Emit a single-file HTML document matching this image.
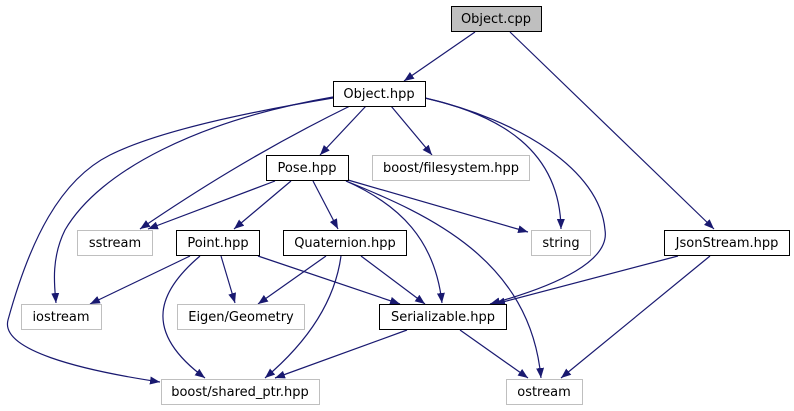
<!DOCTYPE html>
<html><head><meta charset="utf-8"><style>
html,body{margin:0;padding:0;background:#fff;}
svg{display:block;}
text{font-family:"DejaVu Sans","Liberation Sans",sans-serif;font-size:13px;fill:#000;}
</style></head><body>
<svg width="794" height="411" viewBox="0 0 794 411" xmlns="http://www.w3.org/2000/svg">
<defs>
<marker id="a" viewBox="0 0 10 8" refX="10" refY="4" markerWidth="10" markerHeight="8" markerUnits="userSpaceOnUse" orient="auto">
<path d="M0,0 L10,4 L0,8 Z" fill="#191970"/>
</marker>
</defs>
<g fill="none" stroke="#191970" stroke-width="1.2" marker-end="url(#a)">
<path d="M475,32 L404,81"/>
<path d="M510,32 L714,229"/>
<path d="M366,106 L320,155"/>
<path d="M391,106 L432,155"/>
<path d="M425,98 C500,115 560,150 561,229"/>
<path d="M425,98 C520,120 600,170 605,230 C610,260 560,285 490,304"/>
<path d="M350,106 C260,150 190,195 140,229"/>
<path d="M333,97 C200,120 100,170 65,230 C50,260 55,290 56,303"/>
<path d="M333,98 C200,120 140,140 110,155 C60,180 30,240 8,320 C0,350 80,370 160,382"/>
<path d="M275,181 L148,229"/>
<path d="M291,181 L234,229"/>
<path d="M313,181 L338,229"/>
<path d="M348,180 L528,232"/>
<path d="M346,181 C400,205 435,240 442,303"/>
<path d="M346,181 C430,215 530,260 541,378"/>
<path d="M190,256 L90,304"/>
<path d="M221,256 L235,303"/>
<path d="M258,256 L400,304"/>
<path d="M200,256 C160,290 140,330 205,378"/>
<path d="M326,256 L258,304"/>
<path d="M361,256 L425,304"/>
<path d="M341,256 C335,300 310,340 265,378"/>
<path d="M407,330 L275,378"/>
<path d="M460,330 L528,378"/>
<path d="M678,256 L495,304"/>
<path d="M710,256 L561,378"/>
</g>
<g stroke-width="1">
<rect x="451.5" y="6.5" width="90" height="25" fill="#bfbfbf" stroke="#000"/>
<rect x="333.5" y="81.5" width="92" height="25" fill="#fff" stroke="#000"/>
<rect x="266.5" y="155.5" width="82" height="25" fill="#fff" stroke="#000"/>
<rect x="372.5" y="155.5" width="157" height="25" fill="#fff" stroke="#bfbfbf"/>
<rect x="77.5" y="230.5" width="75" height="25" fill="#fff" stroke="#bfbfbf"/>
<rect x="176.5" y="230.5" width="83" height="25" fill="#fff" stroke="#000"/>
<rect x="283.5" y="230.5" width="123" height="25" fill="#fff" stroke="#000"/>
<rect x="531.5" y="230.5" width="59" height="25" fill="#fff" stroke="#bfbfbf"/>
<rect x="664.5" y="230.5" width="125" height="25" fill="#fff" stroke="#000"/>
<rect x="21.5" y="304.5" width="80" height="25" fill="#fff" stroke="#bfbfbf"/>
<rect x="177.5" y="304.5" width="127" height="25" fill="#fff" stroke="#bfbfbf"/>
<rect x="379.5" y="304.5" width="127" height="25" fill="#fff" stroke="#000"/>
<rect x="161.5" y="379.5" width="158" height="25" fill="#fff" stroke="#bfbfbf"/>
<rect x="506.5" y="379.5" width="76" height="25" fill="#fff" stroke="#bfbfbf"/>
</g>
<g text-anchor="middle">
<text x="496" y="23">Object.cpp</text>
<text x="379" y="98">Object.hpp</text>
<text x="307" y="172">Pose.hpp</text>
<text x="451" y="172">boost/filesystem.hpp</text>
<text x="115" y="247">sstream</text>
<text x="218" y="247">Point.hpp</text>
<text x="345" y="247">Quaternion.hpp</text>
<text x="561" y="247">string</text>
<text x="727" y="247">JsonStream.hpp</text>
<text x="61" y="321">iostream</text>
<text x="241" y="321">Eigen/Geometry</text>
<text x="443" y="321">Serializable.hpp</text>
<text x="240" y="396">boost/shared_ptr.hpp</text>
<text x="544" y="396">ostream</text>
</g>
</svg>
</body></html>
